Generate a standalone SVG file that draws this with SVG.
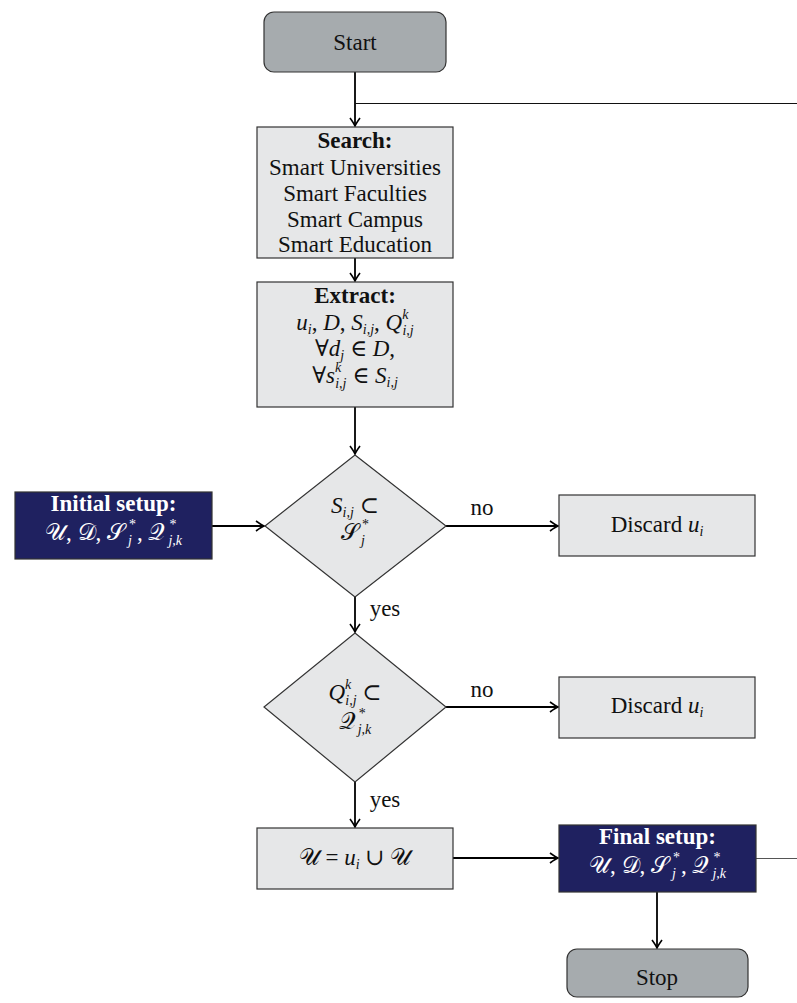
<svg xmlns="http://www.w3.org/2000/svg" width="797" height="1003" viewBox="0 0 797 1003">
<style>
.t{font-family:"Liberation Serif","DejaVu Serif",serif;font-size:23px;text-anchor:middle;fill:#111}
.b{font-weight:bold}
.m{font-style:italic}
.w{fill:#fff}
.s{font-size:14px}
.term{fill:#a6abae;stroke:#333;stroke-width:1.2}
.proc{fill:#e6e7e8;stroke:#333;stroke-width:1.2}
.dark{fill:#1f2160;stroke:#333;stroke-width:1.2}
.c{fill:none;stroke:#000;stroke-width:1.8}
.thin{fill:none;stroke:#111;stroke-width:1}
</style>
<defs>
<marker id="arr" viewBox="-9 -6 10 12" refX="0" refY="0" markerWidth="10" markerHeight="12" markerUnits="userSpaceOnUse" orient="auto">
<path d="M-8,-5 Q-2.5,-1 0,0 Q-2.5,1 -8,5" fill="none" stroke="#000" stroke-width="1.6"/>
</marker>
</defs>

<g id="connectors">
<line class="c" x1="355" y1="72" x2="355" y2="126" marker-end="url(#arr)"/>
<line class="thin" x1="355" y1="103.5" x2="797" y2="103.5"/>
<line class="c" x1="355" y1="258" x2="355" y2="281" marker-end="url(#arr)"/>
<line class="c" x1="355" y1="407" x2="355" y2="454" marker-end="url(#arr)"/>
<line class="c" x1="212" y1="526" x2="264" y2="526" marker-end="url(#arr)"/>
<line class="c" x1="446" y1="526" x2="558" y2="526" marker-end="url(#arr)"/>
<text class="t" x="482" y="515">no</text>
<line class="c" x1="355" y1="597" x2="355" y2="632" marker-end="url(#arr)"/>
<text class="t" x="385" y="616">yes</text>
<line class="c" x1="446" y1="707" x2="558" y2="707" marker-end="url(#arr)"/>
<text class="t" x="482" y="697">no</text>
<line class="c" x1="355" y1="782" x2="355" y2="827" marker-end="url(#arr)"/>
<text class="t" x="385" y="807">yes</text>
<line class="c" x1="453" y1="858" x2="558" y2="858" marker-end="url(#arr)"/>
<line class="thin" x1="756" y1="858.5" x2="797" y2="858.5" style="stroke:#555"/>
<line class="c" x1="657" y1="892" x2="657" y2="948" marker-end="url(#arr)"/>
</g>

<g id="start">
<rect class="term" x="264" y="12" width="182" height="60" rx="10"/>
<text class="t" x="355" y="50">Start</text>
</g>

<g id="search">
<rect class="proc" x="257" y="127" width="196" height="131"/>
<text class="t b" x="355" y="148">Search:</text>
<text class="t" x="355" y="175">Smart Universities</text>
<text class="t" x="355" y="201">Smart Faculties</text>
<text class="t" x="355" y="227">Smart Campus</text>
<text class="t" x="355" y="252">Smart Education</text>
</g>

<g id="extract">
<rect class="proc" x="257" y="282" width="196" height="125"/>
<text class="t b" x="355" y="303">Extract:</text>
<text class="t" x="355" y="330"><tspan class="m">u</tspan><tspan class="s m" dy="4">i</tspan><tspan dy="-4">, </tspan><tspan class="m">D</tspan>, <tspan class="m">S</tspan><tspan class="s m" dy="4">i,j</tspan><tspan dy="-4">, </tspan><tspan class="m">Q</tspan><tspan class="s m" dy="-11">k</tspan><tspan class="s m" dx="-6" dy="16">i,j</tspan></text>
<text class="t" x="355" y="356">∀<tspan class="m">d</tspan><tspan class="s m" dy="4">j</tspan><tspan dy="-4">  ∈  </tspan><tspan class="m">D</tspan>,</text>
<text class="t" x="355" y="383">∀<tspan class="m">s</tspan><tspan class="s m" dy="-11">k</tspan><tspan class="s m" dx="-6" dy="16">i,j</tspan><tspan dy="-5">  ∈  </tspan><tspan class="m">S</tspan><tspan class="s m" dy="4">i,j</tspan></text>
</g>

<g id="initial">
<rect class="dark" x="15" y="492" width="197" height="67"/>
<text class="t b w" x="113.5" y="511">Initial setup:</text>
<text class="t w" x="113.5" y="540">𝒰, 𝒟, 𝒮<tspan class="s" dx="4" dy="-11">*</tspan><tspan class="s m" dx="-8" dy="16">j</tspan><tspan dx="5" dy="-5">, </tspan>𝒬<tspan class="s" dx="4" dy="-11">*</tspan><tspan class="s m" dx="-8" dy="16">j,k</tspan></text>
</g>

<g id="dec1">
<polygon class="proc" points="355,455 446,526 355,597 265,526"/>
<text class="t" x="355" y="513"><tspan class="m">S</tspan><tspan class="s m" dy="4">i,j</tspan><tspan dy="-4"> ⊂</tspan></text>
<text class="t" x="355" y="540">𝒮<tspan class="s" dx="3" dy="-11">*</tspan><tspan class="s m" dx="-8" dy="16">j</tspan></text>
</g>

<g id="discard1">
<rect class="proc" x="559" y="495" width="196" height="61"/>
<text class="t" x="657" y="532">Discard <tspan class="m">u</tspan><tspan class="s m" dy="4">i</tspan></text>
</g>

<g id="dec2">
<polygon class="proc" points="355,633 446,707 355,782 264,707"/>
<text class="t" x="355" y="700"><tspan class="m">Q</tspan><tspan class="s m" dy="-11">k</tspan><tspan class="s m" dx="-6" dy="16">i,j</tspan><tspan dy="-5"> ⊂</tspan></text>
<text class="t" x="355" y="729">𝒬<tspan class="s" dx="3" dy="-11">*</tspan><tspan class="s m" dx="-8" dy="16">j,k</tspan></text>
</g>

<g id="discard2">
<rect class="proc" x="559" y="677" width="196" height="61"/>
<text class="t" x="657" y="713">Discard <tspan class="m">u</tspan><tspan class="s m" dy="4">i</tspan></text>
</g>

<g id="update">
<rect class="proc" x="257" y="828" width="196" height="61"/>
<text class="t" x="355" y="865">𝒰  =  <tspan class="m">u</tspan><tspan class="s m" dy="4">i</tspan><tspan dy="-4"> ∪ </tspan>𝒰</text>
</g>

<g id="final">
<rect class="dark" x="559" y="825" width="197" height="67"/>
<text class="t b w" x="657.5" y="844">Final setup:</text>
<text class="t w" x="657.5" y="873">𝒰, 𝒟, 𝒮<tspan class="s" dx="4" dy="-11">*</tspan><tspan class="s m" dx="-8" dy="16">j</tspan><tspan dx="5" dy="-5">, </tspan>𝒬<tspan class="s" dx="4" dy="-11">*</tspan><tspan class="s m" dx="-8" dy="16">j,k</tspan></text>
</g>

<g id="stop">
<rect class="term" x="567" y="949" width="181" height="48" rx="10"/>
<text class="t" x="657" y="985">Stop</text>
</g>
</svg>
